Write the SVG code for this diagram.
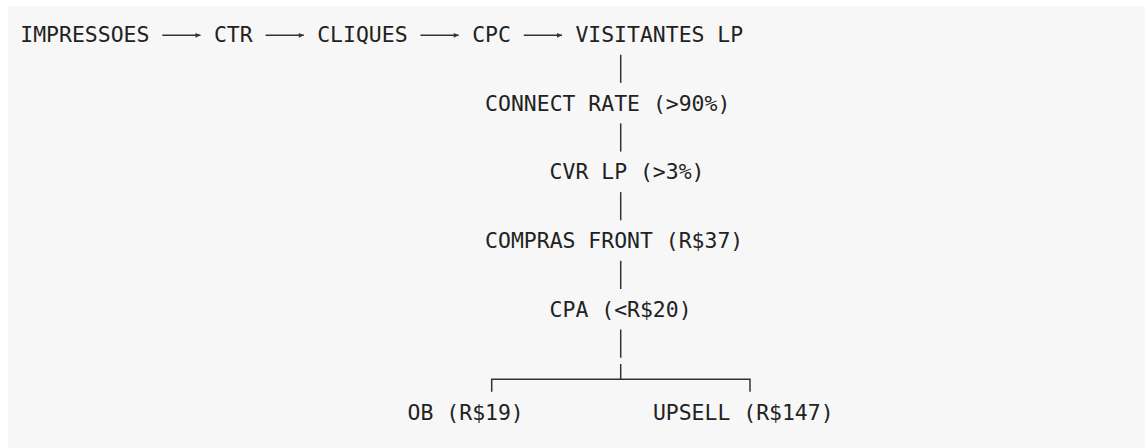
<svg xmlns="http://www.w3.org/2000/svg" width="1145" height="448" viewBox="0 0 1145 448">
<style>
.t{font-family:"DejaVu Sans Mono","Liberation Mono",monospace;font-size:21.44px;fill:#222;}
.c{stroke:#333;stroke-width:1.5;fill:none;}
</style>
<defs>
<marker id="ah" markerUnits="userSpaceOnUse" markerWidth="8" markerHeight="8" refX="6" refY="4" orient="auto">
<path d="M1,1.6 L6,4 L1,6.4 Z" fill="#333"/>
</marker>
</defs>
<rect x="8" y="6" width="1145" height="450" rx="4" fill="#f7f7f7"/>
<g id="connectors">
<line class="c" x1="162.3" y1="35.3" x2="200.5" y2="35.3" marker-end="url(#ah)"/>
<line class="c" x1="265.6" y1="35.3" x2="303.8" y2="35.3" marker-end="url(#ah)"/>
<line class="c" x1="420.5" y1="35.3" x2="458.7" y2="35.3" marker-end="url(#ah)"/>
<line class="c" x1="523.8" y1="35.3" x2="562" y2="35.3" marker-end="url(#ah)"/>
<line class="c" x1="620.7" y1="54.7" x2="620.7" y2="82.9"/>
<line class="c" x1="620.7" y1="123.4" x2="620.7" y2="151.6"/>
<line class="c" x1="620.7" y1="192.1" x2="620.7" y2="220.3"/>
<line class="c" x1="620.7" y1="260.8" x2="620.7" y2="289"/>
<line class="c" x1="620.7" y1="329.5" x2="620.7" y2="357.7"/>
<line class="c" x1="620.7" y1="364" x2="620.7" y2="379.3"/>
<path class="c" d="M491.7,391.8 V379.3 H750 V391.8"/>
</g>
<g id="impressoes"><text class="t" x="20.3" y="42">IMPRESSOES</text></g>
<g id="ctr"><text class="t" x="213.95" y="42">CTR</text></g>
<g id="cliques"><text class="t" x="317.2" y="42">CLIQUES</text></g>
<g id="cpc"><text class="t" x="472.2" y="42">CPC</text></g>
<g id="visitantes"><text class="t" x="575.4" y="42">VISITANTES LP</text></g>
<g id="connect-rate"><text class="t" x="485.1" y="110.7">CONNECT RATE (&gt;90%)</text></g>
<g id="cvr-lp"><text class="t" x="549.6" y="179.4">CVR LP (&gt;3%)</text></g>
<g id="compras-front"><text class="t" x="485.1" y="248.2">COMPRAS FRONT (R$37)</text></g>
<g id="cpa"><text class="t" x="549.6" y="316.9">CPA (&lt;R$20)</text></g>
<g id="ob"><text class="t" x="407.6" y="420">OB (R$19)</text></g>
<g id="upsell"><text class="t" x="652.9" y="420">UPSELL (R$147)</text></g>
</svg>
